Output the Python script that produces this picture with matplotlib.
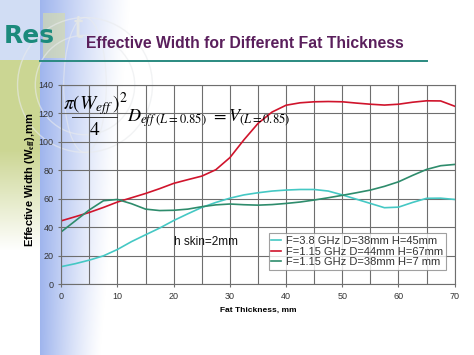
"""Effective width vs fat thickness slide chart -> out.png"""

import numpy as np
import matplotlib
matplotlib.use("Agg")
import matplotlib.pyplot as plt
from matplotlib import font_manager
from matplotlib.patches import Ellipse
from matplotlib.lines import Line2D

# fat thickness (mm) where the curves were read
thickness = [0, 2.5, 5, 7.5, 10, 12.5, 15, 17.5, 20, 22.5, 25, 27.5, 30, 32.5, 35,
             37.5, 40, 42.5, 45, 47.5, 50, 52.5, 55, 57.5, 60, 62.5, 65, 67.5, 70]

# effective width (mm)
w_38ghz = [12.4, 14.5, 17, 20, 24.5, 30, 34.8, 39.5, 44.8, 49.5, 54, 57.5, 60.5, 62.8, 64.3,
           65.5, 66.2, 66.6, 66.6, 65.5, 62.8, 59.8, 56.8, 53.8, 54.2, 57.5, 60.4, 60.5, 59.6]
w_115_d44 = [44.6, 47.5, 50.5, 54, 57.8, 60.8, 63.8, 67.2, 70.9, 73.5, 76, 80.5, 89, 101.5, 113,
             121, 125.8, 127.5, 128.2, 128.4, 128.2, 127.3, 126.5, 125.9, 126.5, 127.9, 128.9, 128.8, 125.1]
w_115_d38 = [36.9, 44.6, 52.3, 58.7, 59.6, 56.6, 52.8, 51.8, 52.0, 52.8, 54.5, 55.8, 56.4, 55.9, 55.6,
             56, 56.8, 57.8, 59.2, 60.8, 62.5, 64.3, 66.2, 68.8, 72, 76.5, 80.7, 83.3, 84.2]

labels = ["F=3.8 GHz D=38mm H=45mm",
          "F=1.15 GHz D=44mm H=67mm",
          "F=1.15 GHz D=38mm H=7 mm"]
colors = ["#45c8c4", "#d0142c", "#2e8c6c"]

W, H = 474, 355


def fx(px):
    return px / W


def fy(py):
    return 1 - py / H


def pick_font(names, fallback):
    have = {f.name for f in font_manager.fontManager.ttflist}
    for n in names:
        if n in have:
            return n
    return fallback


def background():
    yy, xx = np.mgrid[0:H, 0:W].astype(float)
    img = np.ones((H, W, 3))
    blue = np.array([0.56, 0.66, 0.92])
    # blue band fading to the right
    width = 90 - 30 * (yy / H)
    a = np.clip(1 - (xx - 40) / width, 0, 1) ** 1.2 * (xx >= 40)
    a *= 0.85
    img = img * (1 - a[..., None]) + blue * a[..., None]
    # left strip: blue on top, yellow-green below
    strip = xx < 40
    top = strip & (yy < 60)
    img[top] = img[top] * 0.4 + np.array([0.70, 0.78, 0.93]) * 0.6
    green = np.array([0.80, 0.84, 0.58])
    g = np.clip(1 - (yy - 150) / 100, 0, 1) * (strip & (yy >= 60))
    img = img * (1 - g[..., None]) + green * g[..., None]
    # small block behind the logo
    blk = (xx >= 43) & (xx < 65) & (yy >= 13) & (yy < 58)
    img[blk] = img[blk] * 0.4 + np.array([0.85, 0.87, 0.65]) * 0.6
    return img


def main() -> None:
    plt.rcParams["mathtext.fontset"] = "stix"
    sans = pick_font(["Liberation Sans", "Arial"], "DejaVu Sans")

    fig = plt.figure(figsize=(W / 100, H / 100), dpi=100, facecolor="white")
    bg = fig.add_axes([0, 0, 1, 1], zorder=-5)
    bg.imshow(background(), aspect="auto", extent=[0, 1, 0, 1], origin="upper")
    bg.set_xlim(0, 1)
    bg.set_ylim(0, 1)
    bg.axis("off")

    # faint globe watermark
    for r in (0.19, 0.14):
        bg.add_patch(Ellipse((fx(85), fy(85)), 2 * r * H / W, 2 * r, fill=False,
                             ec="#e9ebed", lw=1.0, alpha=0.6))
    bg.add_patch(Ellipse((fx(85), fy(85)), 0.12 * H / W, 0.38, fill=False,
                         ec="#e9ebed", lw=0.9, alpha=0.6))

    # logo + title
    fig.text(fx(4), fy(36), "Res", fontsize=18, fontweight="bold", color="#1b8a7c",
             family="DejaVu Sans", va="center", ha="left")
    fig.text(fx(73), fy(30), "t", fontsize=24, color="#e3e6e6", family=sans, va="center")
    fig.text(fx(86), fy(44), "Effective Width for Different Fat Thickness", fontsize=11.3,
             fontweight="bold", color="#5a1f5c", family=sans, va="center", ha="left")
    fig.add_artist(Line2D([fx(40), fx(427)], [fy(61), fy(61)], color="#2a8a80", lw=1.4))

    ax = fig.add_axes([fx(61.3), fy(284.3), fx(454.7) - fx(61.3), fy(85) - fy(284.3)])
    ax.patch.set_alpha(0)
    for s, c in zip([w_38ghz, w_115_d44, w_115_d38], colors):
        ax.plot(thickness, s, color=c, lw=1.2)
    ax.set_xlim(0, 70)
    ax.set_ylim(0, 140)
    ax.set_xticks(range(0, 71, 10))
    ax.set_xticks(range(0, 71, 5), minor=True)
    ax.set_yticks(range(0, 141, 20))
    ax.grid(True, which="both", axis="x", color="#6e6e6e", lw=0.8)
    ax.grid(True, which="major", axis="y", color="#6e6e6e", lw=0.8)
    ax.set_axisbelow(True)
    for sp in ax.spines.values():
        sp.set_color("#6e6e6e")
        sp.set_linewidth(0.8)
    ax.tick_params(which="both", length=2.5, width=0.8, color="#6e6e6e",
                   labelsize=6.5, labelcolor="#333333", pad=3)
    ax.tick_params(which="minor", length=0)
    for t in ax.get_xticklabels() + ax.get_yticklabels():
        t.set_family(sans)

    ax.set_xlabel("Fat Thickness, mm", fontsize=6, fontweight="bold", family=sans, labelpad=4)
    fig.text(fx(30), fy(180), r"Effective Width (W$_{\mathbf{eff}}$),mm", rotation=90,
             fontsize=8, fontweight="bold", family=sans, ha="center", va="center")

    # formula
    fig.text(fx(95), fy(104), r"$\pi(W_{eff}\,)^{2}$", fontsize=14, ha="center", va="center")
    fig.add_artist(Line2D([fx(72), fx(117)], [fy(117), fy(117)], color="#333333", lw=0.7))
    fig.text(fx(95), fy(130), "$4$", fontsize=14, ha="center", va="center")
    fig.text(fx(127), fy(118), r"$D_{eff\ (L=0.85)}\ =V_{(L=0.85)}$", fontsize=13,
             ha="left", va="center")

    ax.text(20, 30, "h skin=2mm", fontsize=8.5, family=sans, color="#111111", va="center")

    leg = ax.legend(labels, loc="upper left", bbox_to_anchor=(0.527, 0.255),
                    frameon=True, fancybox=False, handlelength=0.9, handletextpad=0.4,
                    borderpad=0.25, labelspacing=0.05, borderaxespad=0,
                    prop={"family": sans, "size": 8})
    leg.get_frame().set_edgecolor("#888888")
    leg.get_frame().set_linewidth(0.8)
    for t in leg.get_texts():
        t.set_color("#333333")

    fig.savefig("out.png", dpi=100, facecolor=fig.get_facecolor())
    plt.close(fig)


if __name__ == "__main__":
    main()
